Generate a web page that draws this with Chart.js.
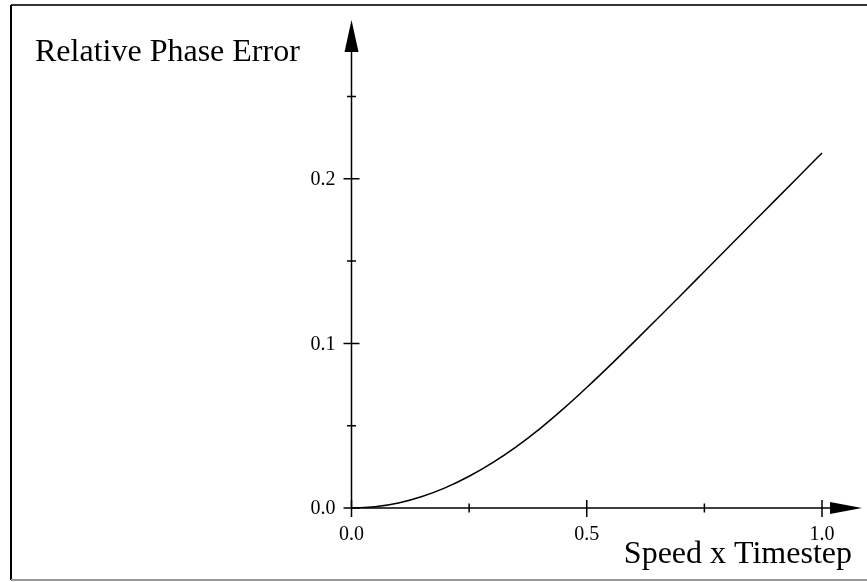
<!DOCTYPE html>
<html>
<head>
<meta charset="utf-8">
<title>Relative Phase Error</title>
<script src="https://cdn.jsdelivr.net/npm/chart.js@4/dist/chart.umd.min.js"></script>
<style>
  html, body { margin: 0; padding: 0; background: #fff; }
  #wrap { width: 867px; height: 582px; }
</style>
</head>
<body>
<div id="wrap"><canvas id="phaseChart" width="867" height="582"></canvas></div>
<script>
// speed x timestep and the resulting relative phase error
var speedTimestep = [0, 0.05, 0.1, 0.15, 0.2, 0.25, 0.3, 0.35, 0.4, 0.45, 0.5,
                     0.55, 0.6, 0.65, 0.7, 0.75, 0.8, 0.85, 0.9, 0.95, 1.0];
var phaseError = [0, 0.0008, 0.0031, 0.007, 0.0124, 0.0193, 0.0276, 0.0372, 0.0481, 0.0602, 0.0732,
                  0.0868, 0.1008, 0.115, 0.1293, 0.1437, 0.1581, 0.1725, 0.1869, 0.2013, 0.2157];

var xMajorTicks = [0, 0.5, 1.0];
var xMajorLabels = ["0.0", "0.5", "1.0"];
var xMinorTicks = [0.25, 0.75];
var yMajorTicks = [0, 0.1, 0.2];
var yMajorLabels = ["0.0", "0.1", "0.2"];
var yMinorTicks = [0.05, 0.15, 0.25];

var yTitle = "Relative Phase Error";
var xTitle = "Speed x Timestep";

var serif = '"Liberation Serif", "DejaVu Serif", serif';

// axes with arrow heads, crossing ticks, labels and the page frame
var axesPlugin = {
  id: 'arrowAxes',
  beforeDraw: function(chart) {
    var c = chart.ctx;
    c.save();
    c.fillStyle = '#fff';
    c.fillRect(0, 0, chart.width, chart.height);
    // frame
    c.lineWidth = 2;
    c.strokeStyle = '#333';
    c.beginPath(); c.moveTo(11, 5); c.lineTo(chart.width, 5); c.stroke();
    c.strokeStyle = '#000';
    c.beginPath(); c.moveTo(11, 5); c.lineTo(11, 580); c.stroke();
    c.strokeStyle = '#999';
    c.beginPath(); c.moveTo(11, 580); c.lineTo(chart.width, 580); c.stroke();
    c.restore();
  },
  afterDatasetsDraw: function(chart) {
    var c = chart.ctx;
    var xs = chart.scales.x, ys = chart.scales.y;
    var x0 = xs.getPixelForValue(0), y0 = ys.getPixelForValue(0);
    var xEnd = chart.chartArea.right, yEnd = chart.chartArea.top;
    c.save();
    c.strokeStyle = '#000';
    c.fillStyle = '#000';
    c.lineWidth = 1.5;

    // axis lines
    c.beginPath();
    c.moveTo(x0, y0); c.lineTo(xEnd - 30, y0);
    c.moveTo(x0, y0); c.lineTo(x0, yEnd + 30);
    c.stroke();

    // arrow heads
    c.beginPath();
    c.moveTo(xEnd, y0); c.lineTo(xEnd - 32, y0 - 6); c.lineTo(xEnd - 32, y0 + 6);
    c.closePath(); c.fill();
    c.beginPath();
    c.moveTo(x0, yEnd); c.lineTo(x0 - 7, yEnd + 32); c.lineTo(x0 + 7, yEnd + 32);
    c.closePath(); c.fill();

    // ticks
    c.beginPath();
    xMajorTicks.forEach(function(v) {
      var p = xs.getPixelForValue(v);
      c.moveTo(p, y0 - 8); c.lineTo(p, y0 + 9);
    });
    xMinorTicks.forEach(function(v) {
      var p = xs.getPixelForValue(v);
      c.moveTo(p, y0 - 4.5); c.lineTo(p, y0 + 4.5);
    });
    yMajorTicks.forEach(function(v) {
      var p = ys.getPixelForValue(v);
      c.moveTo(x0 - 8, p); c.lineTo(x0 + 8, p);
    });
    yMinorTicks.forEach(function(v) {
      var p = ys.getPixelForValue(v);
      c.moveTo(x0 - 4.5, p); c.lineTo(x0 + 4.5, p);
    });
    c.stroke();

    // tick labels
    c.font = '20px ' + serif;
    c.textAlign = 'center';
    c.textBaseline = 'alphabetic';
    xMajorTicks.forEach(function(v, i) {
      c.fillText(xMajorLabels[i], xs.getPixelForValue(v), y0 + 32);
    });
    c.textAlign = 'right';
    c.textBaseline = 'middle';
    yMajorTicks.forEach(function(v, i) {
      c.fillText(yMajorLabels[i], x0 - 16, ys.getPixelForValue(v) + 1);
    });

    // axis titles
    c.font = '32px ' + serif;
    c.textAlign = 'left';
    c.textBaseline = 'alphabetic';
    c.fillText(yTitle, 35, 61);
    c.textAlign = 'right';
    c.fillText(xTitle, 852, 563);
    c.restore();
  }
};

new Chart(document.getElementById('phaseChart'), {
  type: 'line',
  data: {
    labels: speedTimestep,
    datasets: [{
      label: yTitle,
      data: speedTimestep.map(function(s, i) { return { x: s, y: phaseError[i] }; }),
      borderColor: '#000',
      borderWidth: 1.5,
      pointRadius: 0,
      fill: false,
      cubicInterpolationMode: 'monotone'
    }]
  },
  options: {
    responsive: false,
    animation: false,
    layout: { padding: { left: 351.5, right: 5, top: 20, bottom: 74 } },
    plugins: { legend: { display: false }, tooltip: { enabled: false } },
    scales: {
      x: { type: 'linear', min: 0, max: 1.085, display: false },
      y: { type: 'linear', min: 0, max: 0.2965, display: false }
    }
  },
  plugins: [axesPlugin]
});
</script>
</body>
</html>
